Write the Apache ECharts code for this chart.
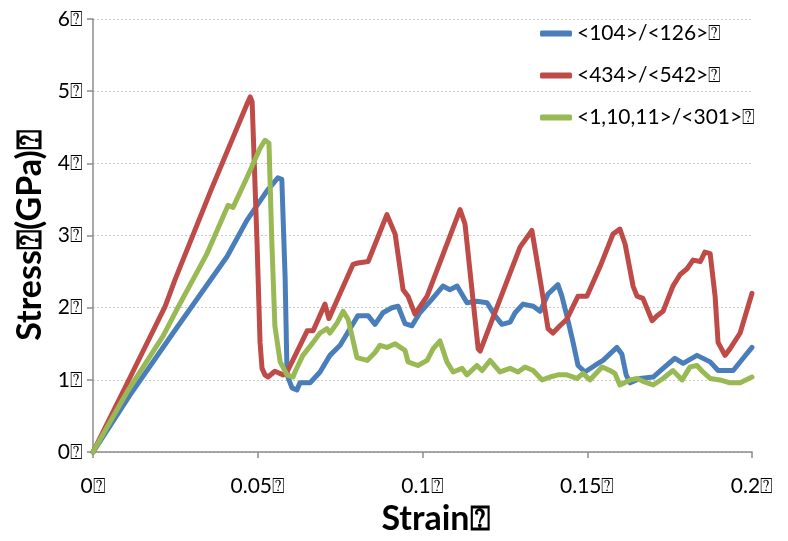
<!DOCTYPE html>
<html>
<head>
<meta charset="utf-8">
<script src="https://cdn.jsdelivr.net/npm/echarts@6/dist/echarts.min.js"></script>
<style>html,body{margin:0;padding:0;background:#fff}#c{width:788px;height:541px}</style>
</head>
<body>
<div id="c"></div>
<script>
const BOX = '\u2370';
const seriesNames = ['<104>/<126>' + BOX, '<434>/<542>' + BOX, '<1,10,11>/<301>' + BOX];
const xTicks = [0, 0.05, 0.1, 0.15, 0.2];
const yTicks = [0, 1, 2, 3, 4, 5, 6];

const blueX = [0, 0.0112, 0.0243, 0.0407, 0.0467, 0.0528, 0.0561, 0.0573, 0.0583, 0.0589, 0.0604, 0.0619, 0.0628, 0.0659, 0.0689, 0.0719, 0.0750, 0.0780, 0.0804, 0.0835, 0.0856, 0.0880, 0.0907, 0.0926, 0.0947, 0.0968, 0.0992, 0.1029, 0.1062, 0.1083, 0.1105, 0.1135, 0.1165, 0.1196, 0.1220, 0.1241, 0.1266, 0.1281, 0.1305, 0.1336, 0.1357, 0.1381, 0.1411, 0.1423, 0.1438, 0.1457, 0.1472, 0.1493, 0.1523, 0.1548, 0.1569, 0.1590, 0.1605, 0.1618, 0.1630, 0.1660, 0.1700, 0.1730, 0.1766, 0.1791, 0.1833, 0.1873, 0.1897, 0.1943, 0.1973, 0.2000];
const blueY = [0, 0.79, 1.65, 2.71, 3.21, 3.62, 3.80, 3.78, 2.43, 1.07, 0.89, 0.86, 0.96, 0.96, 1.11, 1.34, 1.48, 1.71, 1.89, 1.89, 1.77, 1.93, 2.00, 2.02, 1.78, 1.75, 1.93, 2.12, 2.30, 2.25, 2.30, 2.07, 2.09, 2.07, 1.89, 1.77, 1.80, 1.93, 2.05, 2.02, 1.95, 2.19, 2.32, 2.16, 1.89, 1.52, 1.20, 1.11, 1.20, 1.27, 1.36, 1.45, 1.36, 1.07, 0.96, 1.02, 1.04, 1.16, 1.30, 1.23, 1.34, 1.25, 1.13, 1.13, 1.30, 1.45];

const redX = [0, 0.0112, 0.0219, 0.0249, 0.0360, 0.0470, 0.0477, 0.0483, 0.0498, 0.0507, 0.0513, 0.0522, 0.0531, 0.0552, 0.0577, 0.0589, 0.0650, 0.0668, 0.0704, 0.0716, 0.0789, 0.0804, 0.0835, 0.0892, 0.0917, 0.0941, 0.0956, 0.0977, 0.1014, 0.1114, 0.1129, 0.1169, 0.1175, 0.1296, 0.1332, 0.1336, 0.1357, 0.1381, 0.1396, 0.1417, 0.1438, 0.1472, 0.1499, 0.1539, 0.1578, 0.1599, 0.1615, 0.1639, 0.1651, 0.1669, 0.1697, 0.1712, 0.1730, 0.1760, 0.1782, 0.1803, 0.1821, 0.1843, 0.1857, 0.1873, 0.1888, 0.1897, 0.1918, 0.1933, 0.1964, 0.2000];
const redY = [0, 1.03, 2.02, 2.39, 3.65, 4.85, 4.92, 4.85, 2.88, 1.52, 1.16, 1.07, 1.04, 1.12, 1.07, 1.11, 1.68, 1.68, 2.05, 1.85, 2.60, 2.62, 2.64, 3.29, 3.02, 2.25, 2.16, 1.91, 2.16, 3.36, 3.16, 1.43, 1.40, 2.84, 3.07, 3.07, 2.39, 1.71, 1.65, 1.75, 1.84, 2.16, 2.16, 2.57, 3.02, 3.09, 2.88, 2.30, 2.16, 2.13, 1.82, 1.89, 1.95, 2.30, 2.46, 2.54, 2.66, 2.64, 2.77, 2.75, 2.16, 1.52, 1.34, 1.43, 1.65, 2.20];

const greenX = [0, 0.0103, 0.0213, 0.0255, 0.0346, 0.0410, 0.0425, 0.0467, 0.0507, 0.0522, 0.0534, 0.0543, 0.0552, 0.0568, 0.0589, 0.0607, 0.0613, 0.0637, 0.0668, 0.0689, 0.0710, 0.0719, 0.0741, 0.0759, 0.0774, 0.0786, 0.0801, 0.0832, 0.0856, 0.0871, 0.0892, 0.0917, 0.0947, 0.0956, 0.0986, 0.1014, 0.1032, 0.1053, 0.1074, 0.1093, 0.1120, 0.1135, 0.1165, 0.1181, 0.1205, 0.1235, 0.1266, 0.1290, 0.1311, 0.1336, 0.1363, 0.1387, 0.1411, 0.1438, 0.1469, 0.1487, 0.1508, 0.1545, 0.1569, 0.1584, 0.1599, 0.1630, 0.1651, 0.1669, 0.1700, 0.1730, 0.1760, 0.1788, 0.1812, 0.1833, 0.1851, 0.1873, 0.1903, 0.1933, 0.1964, 0.2000];
const greenY = [0, 0.83, 1.61, 1.98, 2.75, 3.42, 3.39, 3.80, 4.21, 4.32, 4.28, 2.88, 1.75, 1.25, 1.07, 1.04, 1.11, 1.34, 1.52, 1.65, 1.71, 1.65, 1.79, 1.95, 1.84, 1.61, 1.31, 1.27, 1.38, 1.48, 1.45, 1.50, 1.41, 1.25, 1.20, 1.27, 1.43, 1.54, 1.25, 1.11, 1.16, 1.07, 1.20, 1.13, 1.27, 1.11, 1.16, 1.11, 1.18, 1.13, 1.00, 1.04, 1.07, 1.07, 1.02, 1.09, 1.00, 1.18, 1.13, 1.09, 0.93, 1.00, 1.02, 0.98, 0.93, 1.02, 1.13, 1.00, 1.18, 1.20, 1.11, 1.02, 1.00, 0.96, 0.96, 1.04];

const colors = ['#4a7ebb', '#be4b48', '#98b954'];
const FONT = 'Lato, "Liberation Sans", sans-serif';

function pairs(xs, ys) { return xs.map((x, i) => [x, ys[i]]); }

const chart = echarts.init(document.getElementById('c'), null, { renderer: 'canvas' });
const fmtX = v => { const t = xTicks.find(k => Math.abs(k - v) < 1e-9); return (t === undefined ? v : t) + BOX; };
chart.setOption({
  animation: false,
  backgroundColor: '#ffffff',
  color: colors,
  grid: { left: 93, right: 36, top: 19, bottom: 83, containLabel: false },
  legend: {
    orient: 'vertical', left: 535, top: 18,
    itemWidth: 32, itemHeight: 6, itemGap: 21,
    icon: 'roundRect',
    textStyle: { fontFamily: FONT, fontSize: 21, lineHeight: 21, color: '#000' },
    data: seriesNames
  },
  xAxis: {
    type: 'value', min: 0, max: 0.2, interval: 0.05,
    name: 'Strain' + BOX, nameLocation: 'middle', nameGap: 47,
    nameTextStyle: { fontFamily: FONT, fontSize: 34, fontWeight: 'bold', color: '#000', padding: [0, 0, 0, 26] },
    axisLine: { show: true, lineStyle: { color: '#8c8c8c', width: 1.5 } },
    axisTick: { show: true, length: 6, lineStyle: { color: '#8c8c8c', width: 1.5 } },
    axisLabel: { fontFamily: FONT, fontSize: 21, color: '#000', margin: 24, formatter: fmtX },
    splitLine: { show: false }
  },
  yAxis: {
    type: 'value', min: 0, max: 6, interval: 1,
    name: 'Stress' + BOX + '(GPa)' + BOX, nameLocation: 'middle', nameGap: 43,
    nameTextStyle: { fontFamily: FONT, fontSize: 34, fontWeight: 'bold', color: '#000' },
    axisLine: { show: true, lineStyle: { color: '#8c8c8c', width: 1.5 } },
    axisTick: { show: true, length: 6, lineStyle: { color: '#8c8c8c', width: 1.5 } },
    axisLabel: { fontFamily: FONT, fontSize: 21, color: '#000', margin: 10, formatter: v => v + BOX },
    splitLine: { show: true, lineStyle: { color: '#c8c8c8', type: [2, 2], width: 1 } }
  },
  series: [
    { name: seriesNames[0], type: 'line', data: pairs(blueX, blueY), showSymbol: false, symbol: 'none', lineStyle: { width: 5, color: colors[0], cap: 'round', join: 'round' }, z: 3 },
    { name: seriesNames[1], type: 'line', data: pairs(redX, redY), showSymbol: false, symbol: 'none', lineStyle: { width: 5, color: colors[1], cap: 'round', join: 'round' }, z: 4 },
    { name: seriesNames[2], type: 'line', data: pairs(greenX, greenY), showSymbol: false, symbol: 'none', lineStyle: { width: 5, color: colors[2], cap: 'round', join: 'round' }, z: 5 }
  ]
});
</script>
</body>
</html>
